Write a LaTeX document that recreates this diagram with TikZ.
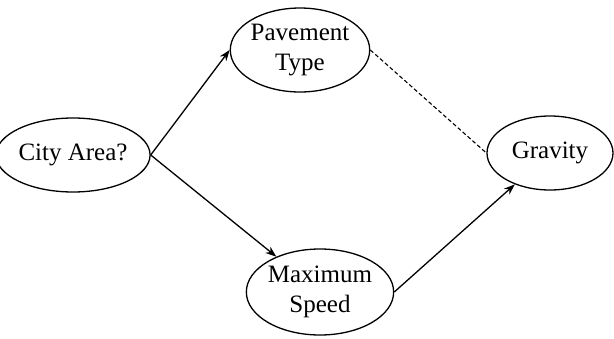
\documentclass[tikz,border=0pt]{standalone}
\usepackage{fontspec}
\setmainfont{Liberation Serif}
\usetikzlibrary{shapes.geometric,arrows.meta}
\begin{document}
\begin{tikzpicture}[x=1pt,y=-1pt,
  ell/.style={draw,ellipse,line width=1.3pt,inner sep=0pt,align=center,
    font=\fontsize{25}{30}\selectfont},
  arr/.style={line width=1.3pt,-{Stealth[length=11pt,width=8pt]}},
  dashline/.style={line width=1.1pt,dash pattern=on 4pt off 2.5pt}]
\useasboundingbox (0,0) rectangle (614,338);
\node[ell,minimum width=126pt,minimum height=74pt] (city) at (73,155) {City Area?};
\node[ell,minimum width=134pt,minimum height=84pt] (pave) at (300,50) {Pavement\\Type};
\node[ell,minimum width=126pt,minimum height=74pt] (grav) at (550,153) {Gravity};
\node[ell,minimum width=144pt,minimum height=86pt] (maxs) at (320,292) {Maximum\\Speed};
\draw[arr] (city.east) -- (pave.west);
\draw[arr] (city.east) -- (maxs);
\draw[arr] (maxs.east) -- (grav);
\draw[dashline] (pave.east) -- (grav.west);
\end{tikzpicture}
\end{document}
